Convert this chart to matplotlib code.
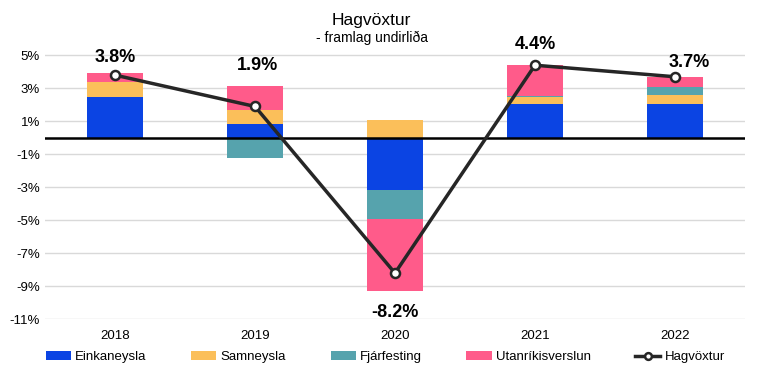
import matplotlib.pyplot as plt
import numpy as np

plt.rcParams['font.family'] = ['Liberation Sans', 'DejaVu Sans']

years = ['2018', '2019', '2020', '2021', '2022']
einkaneysla = [2.5, 0.85, -3.15, 2.05, 2.05]
samneysla = [0.9, 0.85, 1.1, 0.4, 0.55]
fjarfesting = [-0.1, -1.2, -1.8, 0.1, 0.45]
utanrikisverslun = [0.5, 1.45, -4.35, 1.85, 0.65]
hagvoxtur = [3.8, 1.9, -8.2, 4.4, 3.7]

names = ['Einkaneysla', 'Samneysla', 'Fjárfesting', 'Utanríkisverslun']
colors = ['#0b44e3', '#fbbf5a', '#56a3ad', '#ff5b8a']
series = [einkaneysla, samneysla, fjarfesting, utanrikisverslun]

# label offsets (x px, y px) per year
lab_off = [(0, 16), (3, 20), (0, -21), (0, 21), (14, 14)]

fig = plt.figure(figsize=(7.68, 3.85), dpi=100)
ax = fig.add_axes([0.0586, 0.1706, 0.9114, 0.7286])

x = np.arange(len(years))
pos_base = np.zeros(len(years))
neg_base = np.zeros(len(years))
handles = []
for name, col, vals in zip(names, colors, series):
    v = np.array(vals)
    base = np.where(v >= 0, pos_base, neg_base)
    h = ax.bar(x, v, 0.4, bottom=base, color=col, label=name, zorder=2)
    handles.append(h)
    pos_base += np.where(v >= 0, v, 0)
    neg_base += np.where(v < 0, v, 0)

ax.axhline(0, color='black', lw=1.8, zorder=3)
ln, = ax.plot(x, hagvoxtur, color='#262626', lw=2.5, marker='o', ms=6.5,
              mfc='white', mec='#262626', mew=1.8, label='Hagvöxtur', zorder=4)
handles.append(ln)

for i, v in enumerate(hagvoxtur):
    y = pos_base[i] if v >= 0 else neg_base[i]
    dx, dy = lab_off[i]
    ax.annotate(f'{v:.1f}%', (x[i], y), xytext=(dx, dy), textcoords='offset pixels',
                ha='center', va='center', fontsize=13, fontweight='bold')

ax.set_xlim(-0.5, len(years) - 0.5)
ax.set_ylim(-11, 6)
ax.set_yticks(np.arange(5, -12, -2))
ax.set_yticklabels([f'{t}%' for t in np.arange(5, -12, -2)])
ax.set_xticks(x)
ax.set_xticklabels(years)
ax.tick_params(axis='both', length=0, labelsize=9.5, colors='#000000')
ax.tick_params(axis='x', pad=8)
ax.grid(axis='y', color='#d9d9d9', lw=1, zorder=0)
for s in ax.spines.values():
    s.set_visible(False)

fig.text(0.484, 0.948, 'Hagvöxtur', ha='center', va='center', fontsize=12.5)
fig.text(0.484, 0.902, '- framlag undirliða', ha='center', va='center', fontsize=10)

fig.legend(handles=handles, labels=names + ['Hagvöxtur'],
           loc='center left', bbox_to_anchor=(0.06, 0.072), ncol=5, frameon=False,
           fontsize=9.5, handlelength=1.9, handleheight=0.6, columnspacing=3.4,
           handletextpad=0.3, borderpad=0, borderaxespad=0, markerscale=0.75)

fig.savefig('out.png', dpi=100)
